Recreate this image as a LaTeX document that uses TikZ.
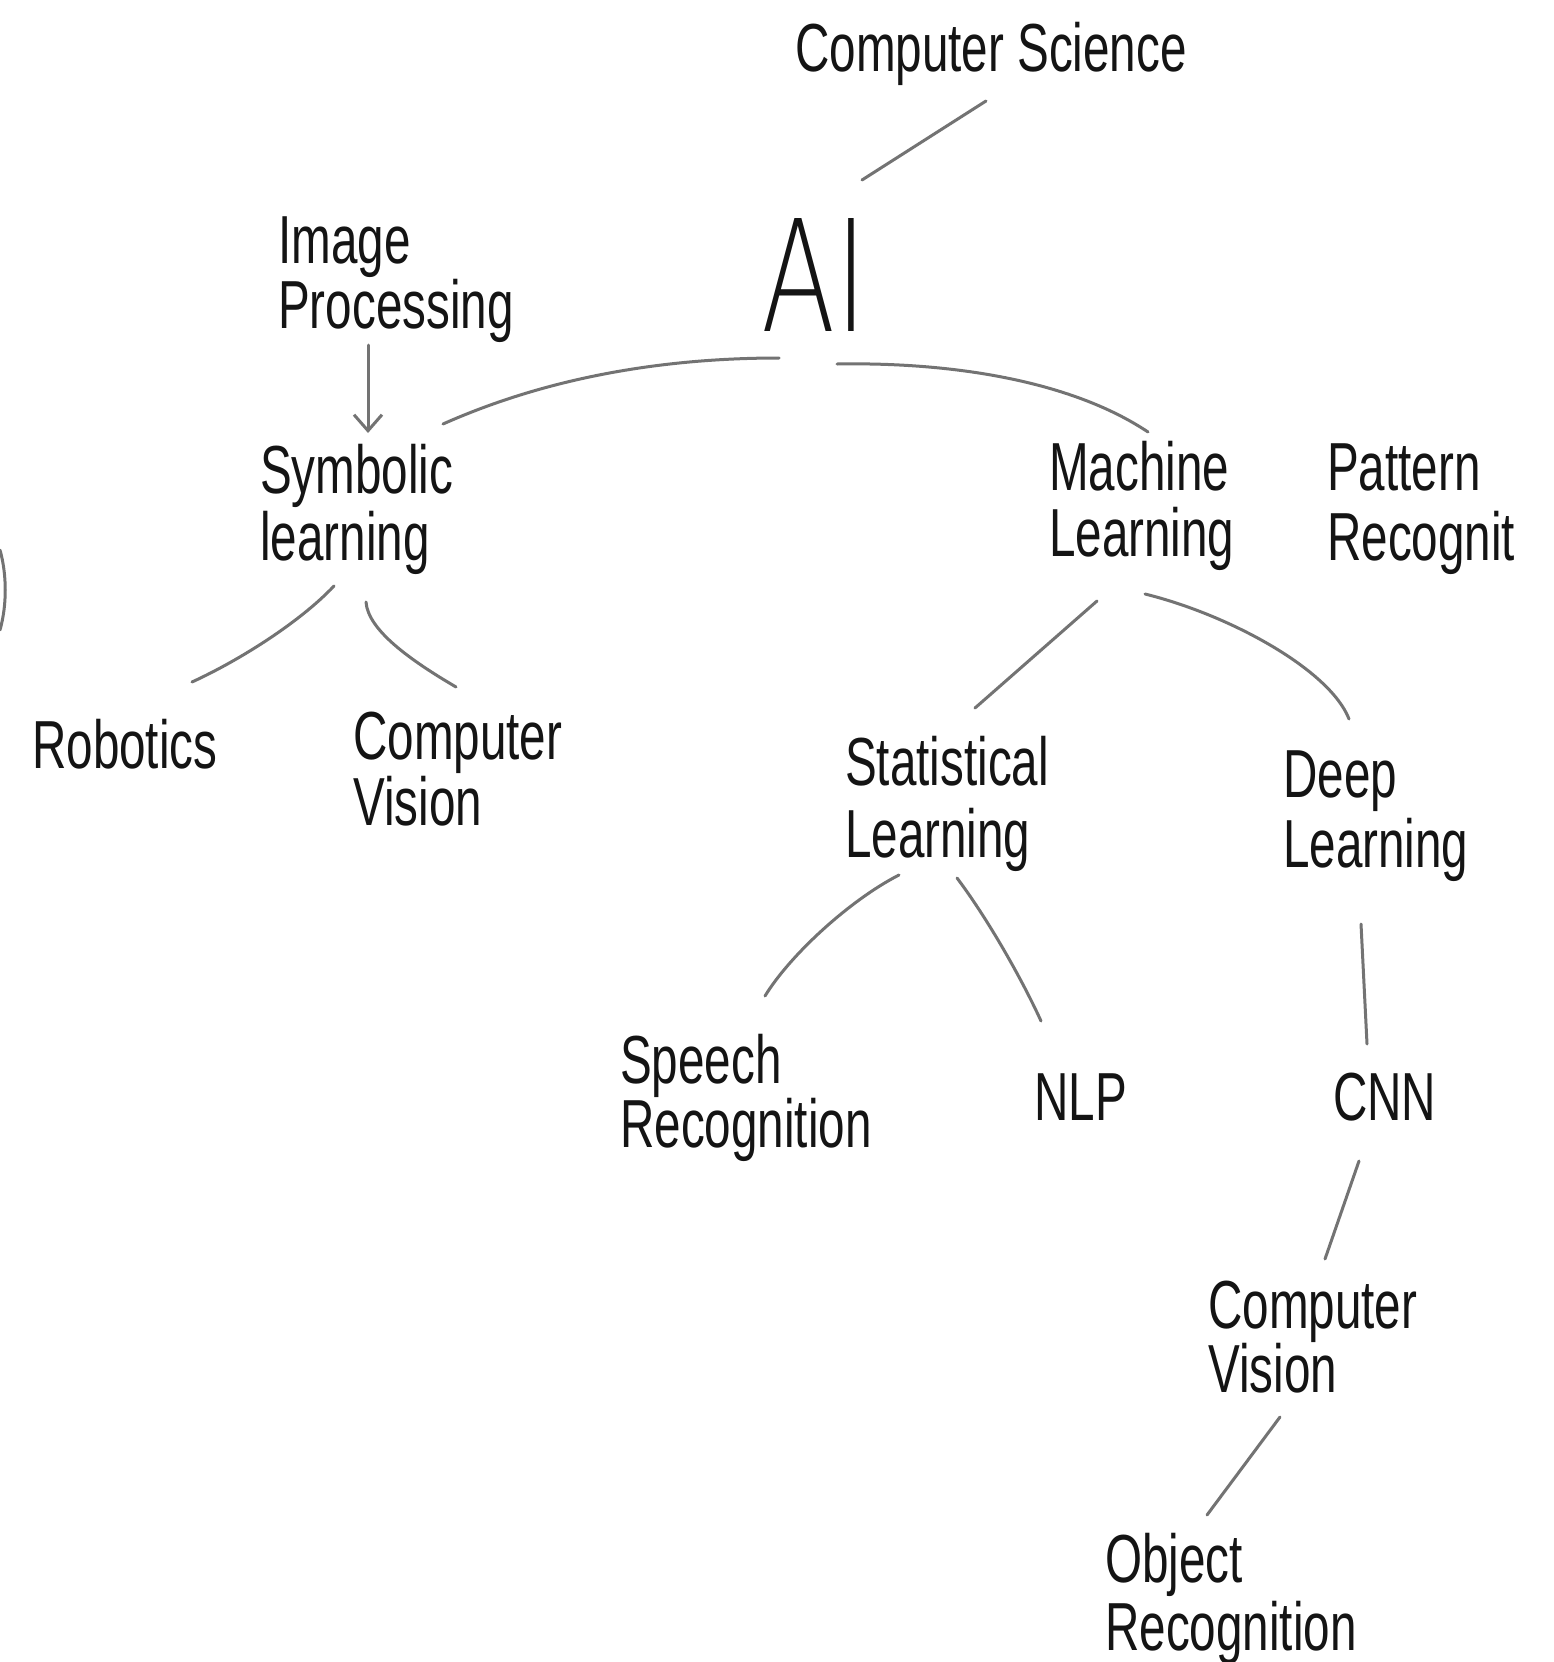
\documentclass[tikz,border=0pt]{standalone}
\usepackage{fontspec}
\setmainfont{Liberation Sans}[FakeStretch=0.70]
\newfontfamily\thinfont{DejaVuSans-ExtraLight}[Extension=.ttf, FakeStretch=0.70]
\usetikzlibrary{arrows.meta,calc}
\begin{document}
\begin{tikzpicture}[x=1pt,y=-1pt,
  lbl/.style={anchor=base west, inner sep=0pt, align=left, font=\fontsize{68}{#1}\selectfont, text=black!92},
  lbl/.default=67,
  conn/.style={draw=black!55, line width=3pt, line cap=round},
]
\useasboundingbox[fill=white] (0,0) rectangle (1554,1662);

% labels (anchor = baseline of the last line)
\node[lbl] (cs) at (795,71) {Computer Science};
\node[anchor=base west, inner sep=0pt, text=black!92, font=\thinfont\fontsize{155}{155}\selectfont] (ai) at (761,331) {AI};
\node[lbl=63] (ip) at (278,328) {Image\\Processing};
\node[lbl=67] (sym) at (260,560) {Symbolic\\learning};
\node[lbl] (rob) at (32,768) {Robotics};
\node[lbl=66] (cvl) at (353,825) {Computer\\Vision};
\node[lbl=66] (ml) at (1049,556) {Machine\\Learning};
\node[lbl=70] (pr) at (1327,560) {Pattern\\Recognit};
\node[lbl=72] (stat) at (845,857) {Statistical\\Learning};
\node[lbl=70] (dl) at (1283,867) {Deep\\Learning};
\node[lbl=64] (sr) at (620,1147) {Speech\\Recognition};
\node[lbl] (nlp) at (1034,1120) {NLP};
\node[lbl] (cnn) at (1333,1120) {CNN};
\node[lbl=64] (cvr) at (1208,1392) {Computer\\Vision};
\node[lbl=68] (obj) at (1105,1650) {Object\\Recognition};

% connectors
\draw[conn] ([shift={(191,30)}]cs.base west) -- ([shift={(101,-151)}]ai.base west);
\draw[conn] ([shift={(18,27)}]ai.base west) .. controls +(-99,0) and +(117,-52) .. ([shift={(183,-136)}]sym.base west);
\draw[conn] ([shift={(76,33)}]ai.base west) .. controls +(113,-2) and +(-78,-52) .. ([shift={(99,-124)}]ml.base west);
\draw[conn, -{Straight Barb[length=16pt,width=28pt]}] ([shift={(90,17)}]ip.base west) -- ([shift={(108,-127)}]sym.base west);
\draw[conn] ([shift={(74,26)}]sym.base west) .. controls +(-34,36) and +(48,-22) .. ([shift={(160,-86)}]rob.base west);
\draw[conn] ([shift={(106,42)}]sym.base west) .. controls +(2,28) and +(-46,-27) .. ([shift={(103,-138)}]cvl.base west);
\draw[conn] ([shift={(48,45)}]ml.base west) -- ([shift={(130,-149)}]stat.base west);
\draw[conn] ([shift={(96,38)}]ml.base west) .. controls +(85,21) and +(-19,-49) .. ([shift={(66,-148)}]dl.base west);
\draw[conn] ([shift={(54,18)}]stat.base west) .. controls +(-49,25) and +(25,-41) .. ([shift={(145,-151)}]sr.base west);
\draw[conn] ([shift={(112,21)}]stat.base west) .. controls +(28,37) and +(-21,-46) .. ([shift={(7,-99)}]nlp.base west);
\draw[conn] ([shift={(78,57)}]dl.base west) -- ([shift={(34,-76)}]cnn.base west);
\draw[conn] ([shift={(26,41)}]cnn.base west) -- ([shift={(117,-133)}]cvr.base west);
\draw[conn] ([shift={(72,25)}]cvr.base west) -- ([shift={(102,-135)}]obj.base west);

% partial circle at the left edge
\draw[conn] (0,550) .. controls (7,575) and (7,605) .. (0,630);
\end{tikzpicture}
\end{document}
